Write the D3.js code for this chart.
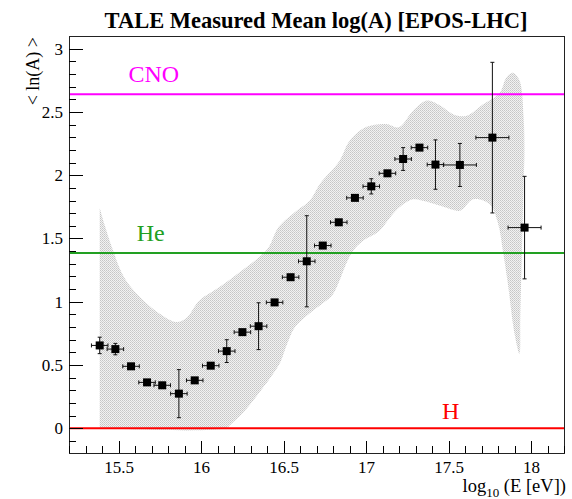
<!DOCTYPE html>
<meta charset="utf-8">
<style>
body { margin: 0; background: white; }
text { font-family: "Liberation Serif", "Times New Roman", serif; }
.axis path.domain { display: none; }
.axis line { stroke: #000; shape-rendering: crispEdges; }
.axis text { font-size: 17px; fill: #000; }
</style>
<svg width="572" height="499"></svg>
<script src="https://cdnjs.cloudflare.com/ajax/libs/d3/7.8.5/d3.min.js"></script>
<script>

// measured points: log10(E), <lnA>, errors
var logE   = [15.386, 15.481, 15.576, 15.673, 15.765, 15.866, 15.962, 16.059, 16.156, 16.251,
              16.349, 16.446, 16.543, 16.641, 16.738, 16.835, 16.933, 17.032, 17.130, 17.225,
              17.324, 17.421, 17.569, 17.766, 17.961];
var meanLnA = [0.655, 0.626, 0.490, 0.363, 0.340, 0.274, 0.379, 0.495, 0.610, 0.760,
               0.807, 0.995, 1.194, 1.320, 1.444, 1.628, 1.821, 1.912, 2.015, 2.128,
               2.218, 2.084, 2.081, 2.297, 1.586];
var errLnA  = [0.065, 0.045, 0.020, 0.020, 0.020, 0.190, 0.020, 0.020, 0.090, 0.020,
               0.185, 0.020, 0.020, 0.360, 0.020, 0.020, 0.020, 0.060, 0.020, 0.090,
               0.020, 0.195, 0.170, 0.595, 0.405];
var errLogE = [0.05, 0.05, 0.05, 0.05, 0.05, 0.05, 0.05, 0.05, 0.05, 0.05,
               0.05, 0.05, 0.05, 0.05, 0.05, 0.05, 0.05, 0.05, 0.05, 0.05,
               0.05, 0.05, 0.10, 0.10, 0.10];

// systematic band (outline)
var bandLower = [[15.386, 0], [16.15, 0], [16.18, 0.03], [16.26, 0.13], [16.34, 0.26], [16.42, 0.40],
                 [16.48, 0.52], [16.52, 0.66], [16.57, 0.80], [16.65, 0.90], [16.74, 0.99], [16.80, 1.06],
                 [16.84, 1.17], [16.88, 1.30], [16.92, 1.40], [16.98, 1.48], [17.08, 1.56], [17.16, 1.69],
                 [17.225, 1.77], [17.285, 1.81], [17.37, 1.79], [17.47, 1.75], [17.57, 1.72], [17.65, 1.81],
                 [17.75, 1.77], [17.80, 1.62], [17.83, 1.40], [17.86, 1.14], [17.90, 0.75], [17.93, 0.59]];
var bandUpper = [[17.93, 0.59], [17.935, 0.88], [17.945, 1.40], [17.955, 1.93], [17.96, 2.19], [17.955, 2.46],
                 [17.93, 2.75], [17.89, 2.81], [17.85, 2.77], [17.81, 2.65], [17.71, 2.56], [17.61, 2.47],
                 [17.53, 2.48], [17.45, 2.55], [17.37, 2.59], [17.285, 2.51], [17.20, 2.38], [17.12, 2.405],
                 [17.00, 2.38], [16.90, 2.27], [16.84, 2.115], [16.72, 1.93], [16.66, 1.80], [16.58, 1.72],
                 [16.47, 1.59], [16.41, 1.43], [16.35, 1.35], [16.23, 1.23], [16.11, 1.115], [15.99, 1.01],
                 [15.91, 0.87], [15.85, 0.84], [15.745, 0.91], [15.66, 1.00], [15.54, 1.18], [15.46, 1.43],
                 [15.42, 1.59], [15.386, 1.74]];

// reference lines for pure compositions
var refNames  = ["H", "He", "CNO"];
var refValues = [0, Math.log(4), Math.log(14)];
var refColors = ["#ff0000", "#22a022", "#ff00ff"];
var refLabelX = [17.46, 15.61, 15.56];
var refLabelY = [0.07, 1.48, 2.74];

var xTicks = [15.5, 16, 16.5, 17, 17.5, 18];
var yTicks = [0, 0.5, 1, 1.5, 2, 2.5, 3];

var svg = d3.select("svg");
var padL = 69, padR = 564, padT = 36, padB = 453;

var x = d3.scaleLinear().domain([15.2, 18.2]).range([padL, padR]);
var y = d3.scaleLinear().domain([-0.195, 3.1]).range([padB, padT]);

// dotted fill like the ROOT pattern
var pat = svg.append("defs").append("pattern")
    .attr("id", "dots").attr("width", 2).attr("height", 2)
    .attr("patternUnits", "userSpaceOnUse");
pat.append("rect").attr("width", 2).attr("height", 2).attr("fill", "#f2f2f2");
pat.append("rect").attr("width", 1).attr("height", 1).attr("fill", "#c6c6c6");
pat.append("rect").attr("x", 1).attr("y", 1).attr("width", 1).attr("height", 1).attr("fill", "#d2d2d2");

var line = d3.line()
    .x(function(d) { return x(d[0]); })
    .y(function(d) { return y(d[1]); })
    .curve(d3.curveCatmullRom.alpha(0.5));

svg.append("path")
    .attr("d", line(bandLower.concat(bandUpper.slice(1))) + "Z")
    .attr("fill", "url(#dots)");

// composition lines
svg.append("g").selectAll("line")
    .data(refValues)
    .enter().append("line")
      .attr("x1", padL).attr("x2", padR)
      .attr("y1", function(d) { return y(d); })
      .attr("y2", function(d) { return y(d); })
      .attr("stroke", function(d, i) { return refColors[i]; })
      .attr("stroke-width", 2);

svg.append("g").selectAll("text")
    .data(refNames)
    .enter().append("text")
      .attr("x", function(d, i) { return x(refLabelX[i]); })
      .attr("y", function(d, i) { return y(refLabelY[i]); })
      .attr("fill", function(d, i) { return refColors[i]; })
      .style("font-size", "24px")
      .text(function(d) { return d; });

// error bars
var pts = logE.map(function(e, i) {
  return { x: e, y: meanLnA[i], ex: errLogE[i], ey: errLnA[i] };
});
var half = 4;

var eb = svg.append("g").attr("stroke", "#111").attr("stroke-width", 1)
    .selectAll("g").data(pts).enter().append("g");

eb.append("line")
    .attr("x1", function(d) { return x(d.x - d.ex); })
    .attr("x2", function(d) { return x(d.x + d.ex); })
    .attr("y1", function(d) { return y(d.y); })
    .attr("y2", function(d) { return y(d.y); });
eb.append("line")
    .attr("x1", function(d) { return x(d.x - d.ex); })
    .attr("x2", function(d) { return x(d.x - d.ex); })
    .attr("y1", function(d) { return y(d.y) - 2; })
    .attr("y2", function(d) { return y(d.y) + 2; });
eb.append("line")
    .attr("x1", function(d) { return x(d.x + d.ex); })
    .attr("x2", function(d) { return x(d.x + d.ex); })
    .attr("y1", function(d) { return y(d.y) - 2; })
    .attr("y2", function(d) { return y(d.y) + 2; });

var ebY = eb.filter(function(d) { return y(d.y - d.ey) - y(d.y) > half + 1; });
ebY.append("line")
    .attr("x1", function(d) { return x(d.x); })
    .attr("x2", function(d) { return x(d.x); })
    .attr("y1", function(d) { return y(d.y + d.ey); })
    .attr("y2", function(d) { return y(d.y - d.ey); });
ebY.append("line")
    .attr("x1", function(d) { return x(d.x) - 2; })
    .attr("x2", function(d) { return x(d.x) + 2; })
    .attr("y1", function(d) { return y(d.y + d.ey); })
    .attr("y2", function(d) { return y(d.y + d.ey); });
ebY.append("line")
    .attr("x1", function(d) { return x(d.x) - 2; })
    .attr("x2", function(d) { return x(d.x) + 2; })
    .attr("y1", function(d) { return y(d.y - d.ey); })
    .attr("y2", function(d) { return y(d.y - d.ey); });

svg.append("g").selectAll("rect")
    .data(pts).enter().append("rect")
      .attr("x", function(d) { return x(d.x) - half; })
      .attr("y", function(d) { return y(d.y) - half; })
      .attr("width", half * 2).attr("height", half * 2)
      .attr("fill", "#000");

// frame
svg.append("rect")
    .attr("x", padL).attr("y", padT)
    .attr("width", padR - padL).attr("height", padB - padT)
    .attr("fill", "none").attr("stroke", "#222").attr("stroke-width", 1)
    .attr("shape-rendering", "crispEdges");

// axes (ticks inward, ROOT style)
var xMinor = d3.range(152, 183).map(function(v) { return v / 10; });
var yMinor = d3.range(-1, 31).map(function(v) { return v / 10; });

svg.append("g").attr("class", "axis")
    .attr("transform", "translate(0," + padB + ")")
    .call(d3.axisBottom(x).tickValues(xMinor).tickSize(-7).tickFormat(""));
svg.append("g").attr("class", "axis")
    .attr("transform", "translate(0," + padB + ")")
    .call(d3.axisBottom(x).tickValues(xTicks).tickSize(-12).tickPadding(8)
      .tickFormat(d3.format("")));

svg.append("g").attr("class", "axis")
    .attr("transform", "translate(" + padL + ",0)")
    .call(d3.axisLeft(y).tickValues(yMinor).tickSize(-7).tickFormat(""));
svg.append("g").attr("class", "axis")
    .attr("transform", "translate(" + padL + ",0)")
    .call(d3.axisLeft(y).tickValues(yTicks).tickSize(-14).tickPadding(6)
      .tickFormat(d3.format("")));

// titles
svg.append("text")
    .attr("x", 316).attr("y", 28)
    .attr("text-anchor", "middle")
    .style("font-size", "22.5px").style("font-weight", "bold")
    .text("TALE Measured Mean log(A) [EPOS-LHC]");

svg.append("text")
    .attr("transform", "translate(39,37) rotate(-90)")
    .attr("text-anchor", "end")
    .style("font-size", "18px")
    .text("< ln(A) >");

var xl = svg.append("text")
    .attr("x", 566).attr("y", 492)
    .attr("text-anchor", "end")
    .style("font-size", "18.5px");
xl.append("tspan").text("log");
xl.append("tspan").attr("dy", 5).style("font-size", "13px").text("10");
xl.append("tspan").attr("dy", -5).text(" (E [eV])");

</script>
